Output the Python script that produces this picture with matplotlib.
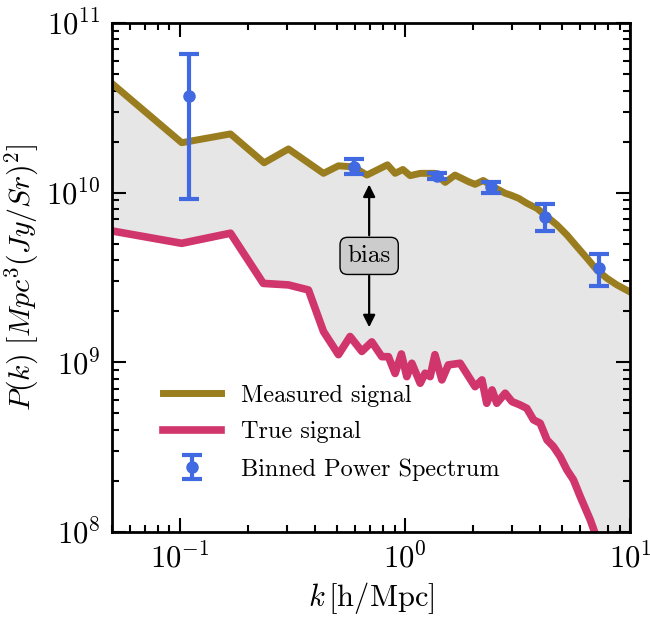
import numpy as np
import matplotlib
matplotlib.use("Agg")
import matplotlib.pyplot as plt

plt.rcParams['font.family'] = 'serif'
plt.rcParams['font.serif'] = ['cmr10']
plt.rcParams['mathtext.fontset'] = 'cm'
plt.rcParams['axes.formatter.use_mathtext'] = True

# measured (biased) power spectrum
k_meas = np.array([0.05, 0.102, 0.168, 0.237, 0.304, 0.435, 0.507, 0.59, 0.678,
                   0.837, 0.905, 0.98, 1.055, 1.17, 1.36, 1.51, 1.67, 1.92, 2.05,
                   2.23, 2.48, 2.79, 2.94, 3.20, 3.48, 3.86, 4.28, 4.74, 5.25,
                   5.81, 6.44, 7.13, 7.90, 8.75, 10.0])
p_meas = np.array([4.4e10, 1.97e10, 2.22e10, 1.5e10, 1.81e10, 1.3e10, 1.44e10,
                   1.42e10, 1.27e10, 1.46e10, 1.30e10, 1.37e10, 1.26e10, 1.30e10,
                   1.30e10, 1.15e10, 1.27e10, 1.16e10, 1.12e10, 1.18e10, 1.08e10,
                   9.92e9, 9.7e9, 9.27e9, 8.66e9, 8.09e9, 7.22e9, 6.45e9, 5.63e9,
                   4.81e9, 4.11e9, 3.50e9, 3.13e9, 2.86e9, 2.60e9])

# true signal
k_true = np.array([0.05, 0.102, 0.168, 0.235, 0.304, 0.373, 0.435, 0.507, 0.571,
                   0.644, 0.713, 0.79, 0.845, 0.905, 0.965, 1.02, 1.074, 1.17,
                   1.23, 1.295, 1.36, 1.46, 1.56, 1.76, 1.92, 2.05, 2.20, 2.31,
                   2.44, 2.56, 2.79, 2.99, 3.25, 3.48, 3.73, 3.99, 4.28, 4.57,
                   4.90, 5.25, 5.61, 6.01, 6.33, 6.66, 7.01, 7.5])
p_true = np.array([5.95e9, 5.03e9, 5.77e9, 2.92e9, 2.86e9, 2.67e9, 1.52e9, 1.11e9,
                   1.42e9, 1.16e9, 1.32e9, 1.08e9, 1.08e9, 8.6e8, 1.12e9, 8.24e8,
                   9.88e8, 7.53e8, 8.63e8, 8.24e8, 1.11e9, 7.88e8, 9.66e8, 9.88e8,
                   8.24e8, 7.19e8, 7.88e8, 5.74e8, 6.88e8, 5.74e8, 6.58e8, 5.87e8,
                   5.61e8, 5.36e8, 4.58e8, 4.38e8, 3.49e8, 3.19e8, 2.78e8, 2.32e8,
                   2.03e8, 1.62e8, 1.38e8, 1.18e8, 9.75e7, 7.5e7])

# binned power spectrum with error bars
k_bin = np.array([0.1096, 0.597, 1.39, 2.42, 4.20, 7.30])
p_bin = np.array([3.71e10, 1.42e10, 1.25e10, 1.08e10, 7.22e9, 3.58e9])
p_hi = np.array([6.54e10, 1.57e10, 1.31e10, 1.16e10, 8.55e9, 4.37e9])
p_lo = np.array([9.18e9, 1.28e10, 1.20e10, 9.92e9, 5.95e9, 2.82e9])

gold = '#9a7d1e'
pink = '#d0356c'
blue = '#4169e1'

fig = plt.figure(figsize=(6.5, 6.2), dpi=100)
ax = fig.add_axes([0.1723, 0.1419, 0.7969, 0.821])
ax.set_xscale('log')
ax.set_yscale('log')
ax.set_xlim(0.05, 10)
ax.set_ylim(1e8, 1e11)

# shaded region between the two curves
ymin = ax.get_ylim()[0]
fx = np.r_[k_meas, k_meas[-1], k_true[::-1]]
fy = np.r_[p_meas, ymin, p_true[::-1]]
ax.fill(fx, fy, color='#e6e6e6', lw=0, zorder=1)

ax.plot(k_meas, p_meas, color=gold, lw=5, label='Measured signal', zorder=2)
ax.plot(k_true, p_true, color=pink, lw=5.5, label='True signal', zorder=2)
ax.errorbar(k_bin, p_bin, yerr=[p_bin - p_lo, p_hi - p_bin], fmt='o', color=blue,
            ms=8, elinewidth=3, capsize=7, capthick=3,
            label='Binned Power Spectrum', zorder=3)

# bias annotation
kb = 0.694
ax.text(kb, 4.24e9, 'bias', ha='center', va='center', fontsize=18,
        bbox=dict(boxstyle='round,pad=0.3', fc='#cccccc', ec='black', lw=1), zorder=5)
ax.annotate('', xy=(kb, 1.16e10), xytext=(kb, 5.4e9),
            arrowprops=dict(arrowstyle='-|>', color='black', lw=1.6, mutation_scale=18), zorder=4)
ax.annotate('', xy=(kb, 1.55e9), xytext=(kb, 3.36e9),
            arrowprops=dict(arrowstyle='-|>', color='black', lw=1.6, mutation_scale=18), zorder=4)

ax.set_xlabel(r'$k\,[\mathrm{h/Mpc}]$', fontsize=22)
ax.set_ylabel(r'$P(k)\ [Mpc^3(Jy/Sr)^2]$', fontsize=21.5)

for s in ax.spines.values():
    s.set_linewidth(2)
ax.tick_params(which='both', direction='in', top=True, right=True, labelsize=22)
ax.tick_params(which='major', length=10, width=1.5, pad=8)
ax.tick_params(which='minor', length=5, width=1.5)

ax.legend(loc='lower left', bbox_to_anchor=(0.08, 0.082), frameon=False,
          fontsize=17.5, handlelength=2.4, borderaxespad=0, labelspacing=0.6)

fig.savefig('out.png', dpi=100)
